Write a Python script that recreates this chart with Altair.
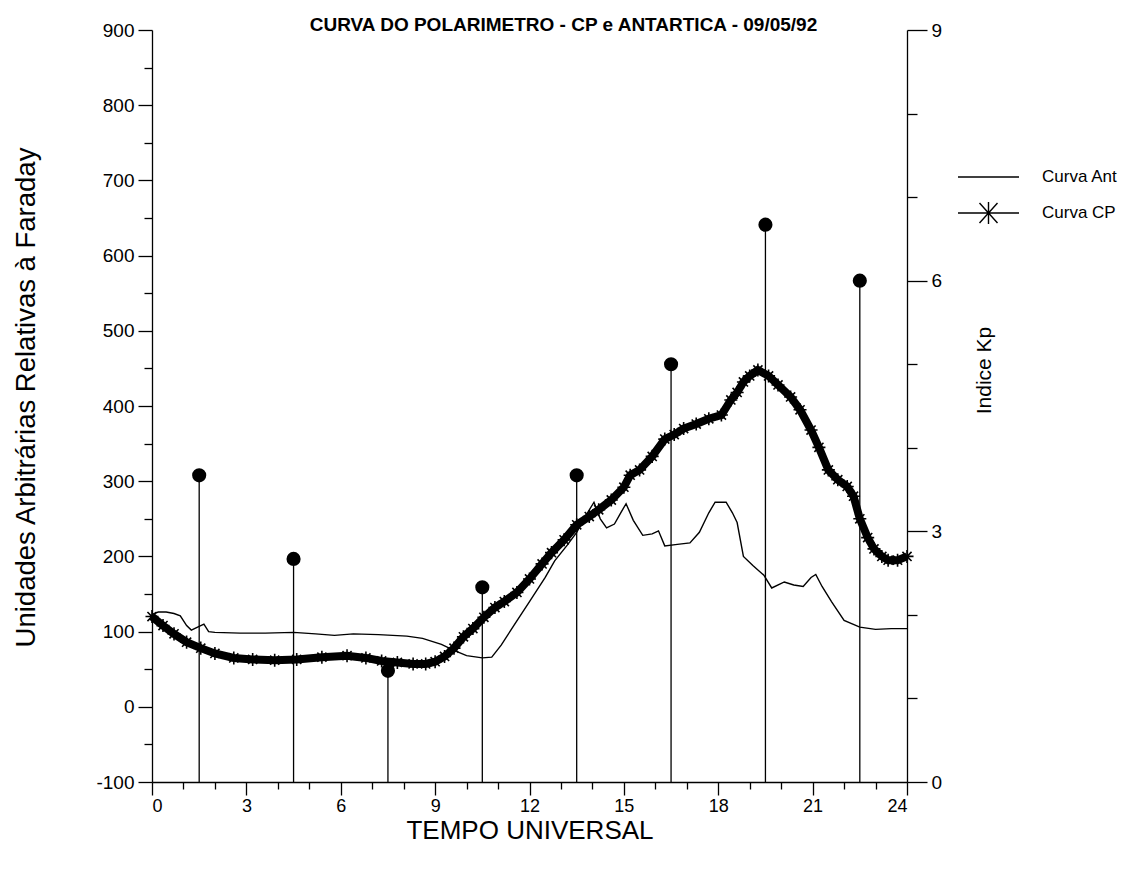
import altair as alt
import pandas as pd

# ---------------- data ----------------
ant_hours = [0, 0.2, 0.45, 0.7, 0.9, 1.1, 1.25, 1.45, 1.65, 1.8, 2.0, 2.8, 3.6, 4.5, 5.2,
             5.8, 6.4, 7.2, 8.1, 8.6, 8.9, 9.2, 9.6, 10.0, 10.5, 10.8, 11.1, 11.5, 12.0,
             12.5, 12.8, 13.2, 13.5, 13.8, 14.05, 14.25, 14.45, 14.7, 14.9, 15.07, 15.3,
             15.6, 15.9, 16.1, 16.3, 16.7, 17.1, 17.4, 17.7, 17.9, 18.25, 18.45, 18.6,
             18.8, 19.1, 19.45, 19.7, 20.1, 20.4, 20.7, 20.95, 21.1, 21.3, 21.6, 22.0,
             22.5, 23.0, 23.5, 24.0]
ant_values = [123, 126, 126, 124, 121, 108, 102, 106, 110, 100, 99, 98, 98, 99, 97,
              95, 97, 96, 94, 91, 87, 83, 75, 68, 65, 66, 82, 108, 140,
              172, 194, 215, 232, 255, 272, 250, 238, 243, 258, 270, 248,
              228, 230, 234, 214, 216, 218, 232, 258, 272, 272, 258, 245,
              200, 188, 175, 158, 166, 162, 160, 172, 176, 160, 140, 115,
              106, 103, 104, 104]

cp_hours = [0, 0.35, 0.7, 1.1, 1.55, 2.0, 2.6, 3.2, 3.9, 4.6, 5.4, 6.2, 6.8, 7.3, 7.8,
            8.3, 8.7, 9.0, 9.3, 9.6, 9.9, 10.2, 10.55, 10.9, 11.2, 11.6, 12.0, 12.4,
            12.7, 13.1, 13.5, 13.9, 14.2, 14.6, 15.0, 15.2, 15.5, 15.9, 16.3, 16.6,
            16.9, 17.3, 17.7, 18.1, 18.4, 18.6, 18.8, 19.0, 19.26, 19.6, 19.9, 20.3,
            20.6, 20.95, 21.2, 21.5, 21.8, 22.1, 22.3, 22.5, 22.75, 22.95, 23.2, 23.4,
            23.7, 24.0]
cp_values = [120, 108, 97, 86, 78, 71, 65, 63, 62, 63, 66, 68, 65, 61, 59,
             57, 57, 60, 67, 78, 93, 104, 119, 132, 140, 152, 170, 190,
             205, 222, 242, 253, 262, 275, 292, 308, 315, 333, 356, 362,
             370, 376, 383, 388, 408, 418, 432, 440, 448, 440, 428, 412,
             395, 368, 345, 315, 302, 293, 280, 250, 225, 210, 200, 195,
             195, 200]

kp_hours = [1.5, 4.5, 7.5, 10.5, 13.5, 16.5, 19.5, 22.5]
kp_values = [3.67, 2.67, 1.33, 2.33, 3.67, 5.0, 6.67, 6.0]

x_ticks = list(range(0, 25))
y_ticks = list(range(-100, 901, 50))
kp_ticks = list(range(0, 10))
series_names = ["Curva Ant", "Curva CP"]

# ---------------- styling ----------------
FONT = "Liberation Sans"
ASTER = "M-1,0L1,0M0,-1L0,1M-0.7,-0.7L0.7,0.7M-0.7,0.7L0.7,-0.7"
ANT_SYM = "M-3.05,0L3.05,0"
CP_SYM = "M-3.05,0L3.05,0M0,-1.1L0,1.1M-0.9,-1L0.9,1M-0.9,1L0.9,-1"

ant_df = pd.DataFrame({"hora": ant_hours, "valor": ant_values})
cp_df = pd.DataFrame({"hora": cp_hours, "valor": cp_values})
kp_df = pd.DataFrame({"hora": kp_hours, "kp": kp_values})
leg_df = pd.DataFrame({"serie": series_names})

x_enc = alt.X(
    "hora:Q",
    scale=alt.Scale(domain=[0, 24], nice=False, zero=False),
    axis=alt.Axis(
        values=x_ticks,
        labelExpr="datum.value % 3 === 0 ? '' + datum.value : ''",
        tickSize={"condition": {"test": "datum.value % 3 === 0", "value": 13}, "value": 7},
        labelFont=FONT, labelFontSize=18, labelColor="black", labelPadding=2,
        labelOverlap=False,
        title="TEMPO UNIVERSAL", titleFont=FONT, titleFontSize=26,
        titleFontWeight="normal", titleColor="black", titlePadding=2,
        domainColor="black", domainWidth=1.3, tickColor="black", tickWidth=1.3,
        grid=False,
    ),
)

y_enc = alt.Y(
    "valor:Q",
    scale=alt.Scale(domain=[-100, 900], nice=False, zero=False),
    axis=alt.Axis(
        orient="left",
        values=y_ticks,
        labelExpr="datum.value % 100 === 0 ? '' + datum.value : ''",
        tickSize={"condition": {"test": "datum.value % 100 === 0", "value": 14}, "value": 8},
        labelFont=FONT, labelFontSize=19, labelColor="black", labelPadding=4,
        labelOverlap=False,
        title="Unidades Arbitrárias Relativas à Faraday", titleFont=FONT,
        titleFontSize=27.5, titleFontWeight="normal", titleColor="black",
        titlePadding=55, titleY=367,
        domainColor="black", domainWidth=1.3, tickColor="black", tickWidth=1.3,
        grid=False,
    ),
)

y_kp = alt.Y(
    "kp:Q",
    scale=alt.Scale(domain=[0, 9], nice=False, zero=False),
    axis=alt.Axis(
        orient="right",
        values=kp_ticks,
        labelExpr="datum.value % 3 === 0 ? '' + datum.value : ''",
        tickSize={"condition": {"test": "datum.value % 3 === 0", "value": 20}, "value": 10},
        labelFont=FONT, labelFontSize=19, labelColor="black", labelPadding=4,
        labelOverlap=False,
        title="Indice Kp", titleFont=FONT, titleFontSize=21, titleFontWeight="normal",
        titleColor="black", titleAngle=270, titlePadding=53, titleY=340,
        domainColor="black", domainWidth=1.3, tickColor="black", tickWidth=1.3,
        grid=False,
    ),
)

ant_line = alt.Chart(ant_df).mark_line(color="black", strokeWidth=1.4).encode(x=x_enc, y=y_enc)
cp_line = alt.Chart(cp_df).mark_line(color="black", strokeWidth=8).encode(x=x_enc, y=y_enc)
cp_pts = alt.Chart(cp_df).mark_point(
    shape=ASTER, size=170, color="black", strokeWidth=1.6, filled=False, opacity=1
).encode(x=x_enc, y=y_enc)

legend_layer = alt.Chart(leg_df).mark_point(
    clip=True, filled=False, color="black", strokeWidth=1.4, opacity=1
).encode(
    x=alt.value(-2000),
    y=alt.value(-2000),
    shape=alt.Shape(
        "serie:N",
        scale=alt.Scale(domain=series_names, range=[ANT_SYM, CP_SYM]),
        legend=alt.Legend(
            title=None, orient="none", legendX=825.5, legendY=136,
            symbolSize=400, symbolStrokeWidth=1.4, symbolStrokeColor="black",
            labelFont=FONT, labelFontSize=17, labelColor="black",
            labelOffset=42.5, rowPadding=14, padding=0,
        ),
    ),
)

kp_rules = alt.Chart(kp_df).mark_rule(color="black", strokeWidth=1.3).encode(
    x=x_enc, y=y_kp, y2=alt.datum(0)
)
kp_dots = alt.Chart(kp_df).mark_circle(size=200, color="black", opacity=1).encode(
    x=x_enc, y=y_kp
)

left = alt.layer(ant_line, cp_line, cp_pts, legend_layer)
right = alt.layer(kp_rules, kp_dots)

chart = (
    alt.layer(left, right)
    .resolve_scale(y="independent")
    .properties(
        width=755,
        height=752,
        title=alt.TitleParams(
            "CURVA DO POLARIMETRO - CP e ANTARTICA - 09/05/92",
            font=FONT, fontSize=19, fontWeight="bold", color="black",
            anchor="middle", dx=34, dy=17, offset=3,
        ),
        autosize=alt.AutoSizeParams(type="none"),
        padding={"left": 152, "top": 30, "right": 224, "bottom": 97},
        background="white",
    )
    .configure_view(stroke=None)
)

chart.save("out.html", embed_options={"renderer": "svg", "actions": False})
